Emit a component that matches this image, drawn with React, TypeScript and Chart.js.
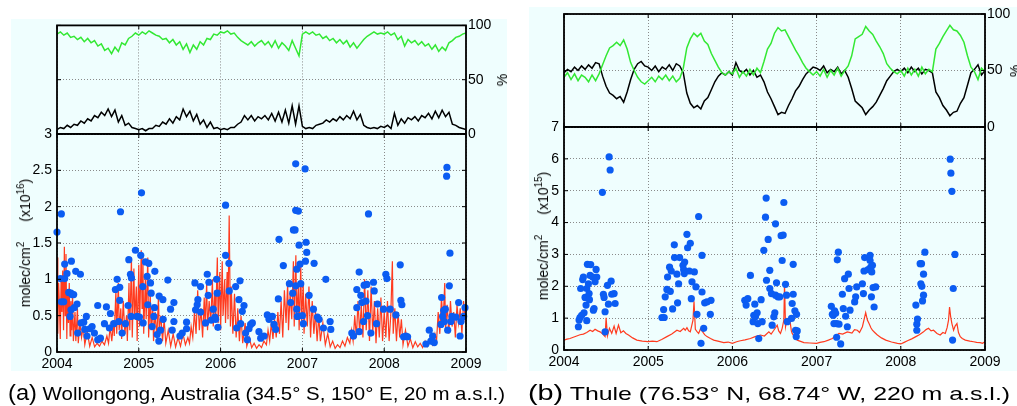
import React, { useEffect, useLayoutEffect, useRef } from "react";
import { Chart, registerables } from "chart.js";

Chart.register(...registerables);

const FONT = "'Liberation Sans', Arial, Helvetica, sans-serif";
Chart.defaults.font.family = FONT;
Chart.defaults.color = "#000";

// ---------------- data ----------------
const YEAR_START = 2004;
const YEAR_END = 2009;
const SAMPLES_PER_YEAR = 24;
const yearTicks = [2004, 2005, 2006, 2007, 2008, 2009];

// Wollongong, top panel (%), sampled every half month from 2004.0 to 2009.0
const wolGreen = [
  92, 94, 91, 93, 89, 90, 87, 89, 85, 88, 84, 86, 81, 83, 77, 79, 74, 80, 76, 84, 82, 88, 90, 93,
  91, 94, 92, 95, 93, 91, 90, 87, 88, 84, 87, 82, 85, 78, 83, 75, 82, 78, 85, 82, 88, 87, 92, 91,
  94, 93, 95, 92, 93, 89, 86, 84, 82, 85, 81, 84, 86, 82, 85, 80, 86, 79, 84, 81, 77, 86, 79, 72,
  92, 94, 92, 94, 91, 92, 88, 90, 86, 88, 84, 87, 83, 86, 80, 84, 79, 83, 87, 90, 92, 94, 92, 93,
  92, 94, 91, 93, 87, 90, 81, 87, 84, 86, 82, 85, 81, 83, 78, 82, 76, 80, 77, 84, 86, 89, 90, 92,
  93,
];
const wolBlack = [
  4, 6, 5, 8, 6, 9, 8, 12, 10, 14, 12, 17, 15, 20, 17, 23, 16, 22, 11, 17, 8, 10, 6, 5,
  4, 5, 3, 5, 5, 8, 7, 11, 9, 14, 10, 16, 13, 23, 16, 21, 12, 18, 9, 13, 6, 11, 5, 6,
  4, 5, 4, 6, 6, 9, 11, 17, 13, 17, 12, 16, 14, 17, 13, 19, 12, 20, 11, 22, 10, 26, 9, 26,
  7, 5, 6, 5, 8, 9, 10, 13, 11, 14, 12, 16, 13, 17, 14, 21, 13, 18, 8, 6, 5, 6, 5, 7,
  6, 8, 5, 19, 8, 14, 10, 15, 13, 16, 12, 17, 15, 19, 14, 21, 15, 22, 16, 20, 9, 8, 6, 5,
  4,
];

// Thule, top panel (%)
const thuGreen = [
  44, 48, 42, 47, 41, 46, 44, 40, 46, 41, 47, 55, 63, 70, 72, 75, 72, 77, 69, 57, 50, 44, 40, 38,
  41, 44, 40, 45, 42, 46, 41, 45, 40, 43, 52, 70, 78, 83, 80, 83, 76, 73, 65, 59, 53, 48, 46, 49,
  47, 52, 44, 49, 45, 51, 46, 52, 48, 58, 69, 74, 83, 88, 85, 86, 80, 74, 68, 63, 57, 52, 49, 46,
  49, 45, 51, 44, 50, 46, 52, 45, 50, 54, 63, 78, 80, 82, 89, 85, 82, 76, 71, 65, 56, 52, 49, 47,
  50, 45, 52, 46, 51, 45, 53, 47, 51, 49, 69, 74, 80, 85, 90, 86, 85, 81, 75, 63, 53, 49, 42, 52,
  49,
];
const thuBlack = [
  48, 51, 49, 53, 50, 54, 51, 55, 52, 57, 56, 45, 36, 30, 28, 25, 27, 22, 31, 42, 51, 56, 58, 54,
  53, 50, 54, 49, 53, 51, 55, 50, 56, 54, 48, 30, 21, 17, 19, 16, 23, 26, 33, 40, 45, 48, 46, 49,
  46, 57, 50, 48, 51, 46, 50, 44, 46, 40, 31, 25, 18, 11, 13, 12, 19, 25, 32, 36, 42, 47, 50, 53,
  52, 50, 54, 48, 51, 49, 53, 47, 50, 44, 34, 23, 20, 17, 11, 15, 18, 22, 28, 34, 41, 45, 49, 51,
  49, 52, 48, 53, 49, 52, 47, 51, 50, 48, 31, 26, 19, 15, 10, 13, 14, 21, 26, 37, 48, 51, 55, 46,
  50,
];

// Wollongong, bottom panel: model (red line), x10^16 molec/cm2
const wolModelYears = [
  2004.00, 2004.01, 2004.02, 2004.03, 2004.04, 2004.05, 2004.06, 2004.07, 2004.08, 2004.09,
  2004.10, 2004.11, 2004.12, 2004.13, 2004.14, 2004.15, 2004.16, 2004.17, 2004.18, 2004.19,
  2004.20, 2004.22, 2004.23, 2004.25, 2004.26, 2004.28, 2004.30, 2004.32, 2004.34, 2004.37,
  2004.40, 2004.43, 2004.46, 2004.49, 2004.52, 2004.55, 2004.58, 2004.61, 2004.63, 2004.65,
  2004.67, 2004.69, 2004.70, 2004.72, 2004.73, 2004.75, 2004.76, 2004.78, 2004.79, 2004.81,
  2004.83, 2004.85, 2004.86, 2004.88, 2004.89, 2004.91, 2004.92, 2004.94, 2004.95, 2004.97,
  2004.98, 2005.00, 2005.01, 2005.03, 2005.04, 2005.05, 2005.06, 2005.08, 2005.09, 2005.11,
  2005.12, 2005.14, 2005.15, 2005.17, 2005.18, 2005.20, 2005.22, 2005.24, 2005.25, 2005.27,
  2005.29, 2005.31, 2005.33, 2005.36, 2005.39, 2005.42, 2005.45, 2005.48, 2005.51, 2005.54,
  2005.57, 2005.60, 2005.62, 2005.64, 2005.66, 2005.68, 2005.70, 2005.72, 2005.74, 2005.76,
  2005.78, 2005.80, 2005.81, 2005.83, 2005.84, 2005.86, 2005.88, 2005.90, 2005.91, 2005.93,
  2005.94, 2005.96, 2005.97, 2005.99, 2006.00, 2006.02, 2006.03, 2006.05, 2006.06, 2006.08,
  2006.09, 2006.105, 2006.12, 2006.13, 2006.15, 2006.17, 2006.19, 2006.21, 2006.23, 2006.25,
  2006.27, 2006.30, 2006.32, 2006.35, 2006.38, 2006.41, 2006.44, 2006.47, 2006.50, 2006.53,
  2006.56, 2006.58, 2006.60, 2006.62, 2006.64, 2006.66, 2006.68, 2006.70, 2006.72, 2006.74,
  2006.76, 2006.78, 2006.80, 2006.82, 2006.83, 2006.85, 2006.87, 2006.89, 2006.90, 2006.92,
  2006.93, 2006.95, 2006.96, 2006.98, 2006.99, 2007.01, 2007.02, 2007.04, 2007.06, 2007.08,
  2007.10, 2007.12, 2007.14, 2007.16, 2007.18, 2007.20, 2007.22, 2007.25, 2007.28, 2007.31,
  2007.34, 2007.37, 2007.40, 2007.43, 2007.46, 2007.49, 2007.52, 2007.55, 2007.58, 2007.60,
  2007.62, 2007.64, 2007.66, 2007.68, 2007.70, 2007.72, 2007.74, 2007.76, 2007.78, 2007.80,
  2007.82, 2007.84, 2007.86, 2007.88, 2007.90, 2007.92, 2007.94, 2007.96, 2007.98, 2008.00,
  2008.02, 2008.04, 2008.06, 2008.08, 2008.10, 2008.11, 2008.13, 2008.15, 2008.17, 2008.19,
  2008.21, 2008.23, 2008.26, 2008.29, 2008.32, 2008.35, 2008.38, 2008.41, 2008.44, 2008.47,
  2008.50, 2008.53, 2008.56, 2008.59, 2008.62, 2008.64, 2008.66, 2008.68, 2008.70, 2008.72,
  2008.74, 2008.75, 2008.77, 2008.79, 2008.81, 2008.83, 2008.85, 2008.87, 2008.89, 2008.91,
  2008.93, 2008.95, 2008.97, 2008.99, 2009.00,
];
const wolModelValues = [
  1.30, 0.25, 0.95, 0.65, 0.18, 1.00, 0.55, 1.12, 0.30, 1.45,
  0.50, 1.35, 0.18, 0.85, 0.40, 0.95, 0.22, 0.70, 0.30, 0.80,
  0.15, 0.55, 0.15, 0.60, 0.12, 0.40, 0.20, 0.35, 0.10, 0.28,
  0.08, 0.20, 0.07, 0.12, 0.08, 0.15, 0.10, 0.22, 0.12, 0.35,
  0.15, 0.42, 0.22, 0.85, 0.25, 0.95, 0.30, 0.60, 0.18, 0.70,
  0.25, 0.50, 0.15, 0.95, 0.30, 1.30, 0.20, 1.15, 0.45, 0.90,
  0.15, 1.20, 0.35, 1.40, 0.60, 1.35, 0.25, 1.00, 0.45, 1.30,
  0.20, 0.80, 0.30, 0.65, 0.15, 0.55, 0.20, 0.75, 0.30, 0.50,
  0.15, 0.45, 0.12, 0.30, 0.08, 0.25, 0.07, 0.20, 0.08, 0.25,
  0.10, 0.20, 0.12, 0.35, 0.20, 0.55, 0.25, 0.85, 0.30, 0.60,
  0.20, 0.75, 0.35, 0.95, 0.30, 0.70, 0.40, 1.00, 0.35, 0.85,
  0.45, 1.30, 0.40, 1.10, 0.30, 1.25, 0.50, 1.00, 0.40, 1.10,
  0.45, 1.88, 0.35, 0.90, 0.25, 0.80, 0.20, 0.60, 0.15, 0.50,
  0.12, 0.40, 0.08, 0.20, 0.06, 0.12, 0.05, 0.10, 0.06, 0.15,
  0.10, 0.30, 0.15, 0.40, 0.18, 0.45, 0.20, 0.55, 0.25, 0.70,
  0.20, 0.85, 0.40, 0.95, 0.30, 0.80, 0.45, 1.25, 0.35, 1.33,
  0.50, 0.90, 0.30, 1.20, 0.40, 0.95, 0.25, 0.80, 0.35, 0.90,
  0.20, 0.70, 0.25, 0.55, 0.15, 0.50, 0.15, 0.40, 0.10, 0.25,
  0.07, 0.15, 0.05, 0.10, 0.06, 0.15, 0.08, 0.20, 0.12, 0.30,
  0.15, 0.50, 0.20, 0.70, 0.25, 0.65, 0.20, 1.00, 0.30, 0.85,
  0.15, 0.90, 0.25, 0.70, 0.12, 0.60, 0.20, 0.75, 0.15, 0.55,
  0.20, 0.70, 0.15, 0.50, 1.25, 0.25, 0.60, 0.15, 0.55, 0.20,
  0.45, 0.10, 0.30, 0.08, 0.18, 0.06, 0.14, 0.07, 0.12, 0.06,
  0.15, 0.08, 0.18, 0.10, 0.25, 0.15, 0.55, 0.25, 0.75, 0.40,
  0.95, 0.30, 0.65, 0.25, 0.70, 0.35, 0.55, 0.20, 0.65, 0.40,
  0.60, 0.25, 0.70, 0.45, 0.55,
];

// Wollongong, bottom panel: measurements (blue dots)
const wolObsYears = [
  2004.000, 2004.053, 2004.041, 2004.053, 2004.082, 2004.094, 2004.094, 2004.122, 2004.143, 2004.171,
  2004.176, 2004.184, 2004.204, 2004.171, 2004.212, 2004.229, 2004.245, 2004.159, 2004.286, 2004.253,
  2004.294, 2004.327, 2004.359, 2004.339, 2004.367, 2004.400, 2004.429, 2004.457, 2004.498, 2004.498,
  2004.531, 2004.604, 2004.580, 2004.641, 2004.653, 2004.694, 2004.714, 2004.735, 2004.755, 2004.767,
  2004.767, 2004.776, 2004.796, 2004.837, 2004.878, 2004.869, 2004.898, 2004.910, 2004.906, 2004.959,
  2004.980, 2005.008, 2005.024, 2005.033, 2005.049, 2005.053, 2005.082, 2005.122, 2005.102, 2005.110,
  2005.143, 2005.151, 2005.163, 2005.184, 2005.196, 2005.192, 2005.224, 2005.245, 2005.249, 2005.265,
  2005.294, 2005.298, 2005.355, 2005.388, 2005.408, 2005.429, 2005.429, 2005.502, 2005.531, 2005.584,
  2005.584, 2005.686, 2005.694, 2005.714, 2005.722, 2005.755, 2005.755, 2005.816, 2005.837, 2005.857,
  2005.849, 2005.886, 2005.910, 2005.931, 2005.951, 2005.959, 2005.967, 2005.939, 2006.061, 2006.061,
  2006.102, 2006.106, 2006.184, 2006.196, 2006.224, 2006.237, 2006.245, 2006.265, 2006.286, 2006.306,
  2006.327, 2006.347, 2006.367, 2006.388, 2006.469, 2006.490, 2006.531, 2006.571, 2006.592, 2006.633,
  2006.653, 2006.673, 2006.714, 2006.706, 2006.767, 2006.841, 2006.857, 2006.882, 2006.890, 2006.910,
  2006.918, 2006.918, 2006.951, 2006.918, 2006.931, 2006.931, 2006.939, 2006.959, 2006.971, 2006.980,
  2007.000, 2007.012, 2007.033, 2007.045, 2007.053, 2007.037, 2007.082, 2007.135, 2007.143, 2007.184,
  2007.204, 2007.257, 2007.286, 2007.339, 2007.347, 2007.604, 2007.624, 2007.665, 2007.665, 2007.694,
  2007.694, 2007.714, 2007.727, 2007.747, 2007.755, 2007.788, 2007.776, 2007.796, 2007.808, 2007.837,
  2007.869, 2007.878, 2007.906, 2007.918, 2007.992, 2008.020, 2008.033, 2008.073, 2008.143, 2008.196,
  2008.204, 2008.216, 2008.237, 2008.265, 2008.286, 2008.510, 2008.551, 2008.571, 2008.592, 2008.612,
  2008.694, 2008.702, 2008.714, 2008.727, 2008.735, 2008.747, 2008.767, 2008.763, 2008.776, 2008.796,
  2008.804, 2008.816, 2008.829, 2008.878, 2008.910, 2008.927, 2008.939, 2008.971, 2008.988,
];
const wolObsValues = [
  1.65, 1.90, 1.01, 0.69, 0.69, 1.21, 1.01, 1.08, 0.82, 0.81,
  1.25, 0.79, 0.79, 0.58, 0.61, 1.11, 0.66, 0.49, 1.07, 0.26,
  0.40, 0.41, 0.49, 0.31, 0.22, 0.32, 0.35, 0.26, 0.64, 0.17,
  0.19, 0.62, 0.39, 0.33, 0.53, 0.39, 0.86, 1.00, 0.42, 0.71,
  0.89, 1.93, 0.26, 0.39, 1.27, 0.64, 1.07, 1.02, 0.49, 1.40,
  0.49, 0.48, 1.33, 2.19, 0.90, 0.40, 1.24, 1.22, 1.04, 0.65,
  0.95, 0.81, 0.35, 0.49, 1.11, 0.61, 0.24, 0.15, 0.77, 0.30,
  0.72, 0.45, 0.99, 0.59, 0.30, 0.68, 0.42, 0.22, 0.26, 0.41,
  0.32, 0.95, 0.58, 0.65, 0.72, 0.90, 0.55, 0.40, 1.07, 0.96,
  0.78, 0.44, 0.59, 0.48, 1.00, 0.81, 0.34, 0.45, 1.33, 2.02,
  1.22, 0.84, 0.90, 0.33, 0.72, 0.98, 0.39, 0.56, 0.64, 0.26,
  0.17, 0.32, 0.38, 0.40, 0.28, 0.19, 0.22, 0.51, 0.45, 0.49,
  0.38, 0.31, 1.55, 0.73, 1.19, 0.94, 0.68, 0.81, 1.68, 1.68,
  2.59, 1.95, 1.94, 0.91, 1.14, 0.59, 0.49, 1.47, 1.21, 0.94,
  0.50, 0.39, 2.52, 1.51, 1.37, 1.25, 0.78, 0.59, 1.22, 0.48,
  0.45, 0.33, 1.00, 0.42, 0.31, 0.26, 0.22, 0.86, 0.61, 1.10,
  0.28, 0.78, 0.68, 0.42, 0.92, 0.93, 0.70, 0.50, 1.90, 0.26,
  0.96, 0.84, 0.39, 0.66, 0.59, 1.07, 1.01, 0.59, 0.51, 1.20,
  0.71, 0.65, 0.21, 0.22, 0.21, 0.11, 0.30, 0.15, 0.22, 0.13,
  0.38, 0.75, 0.49, 0.57, 0.42, 0.59, 2.54, 2.42, 0.30, 0.91,
  1.36, 0.42, 0.49, 0.48, 0.68, 0.22, 0.42, 0.49, 0.61,
];

// Thule, bottom panel: model (red line), x10^15 molec/cm2
const thuModelYears = [
  2004.000, 2004.035, 2004.071, 2004.110, 2004.151, 2004.190, 2004.230, 2004.270, 2004.310, 2004.340,
  2004.369, 2004.400, 2004.429, 2004.460, 2004.488, 2004.500, 2004.516, 2004.540, 2004.567, 2004.595,
  2004.619, 2004.647, 2004.675, 2004.706, 2004.735, 2004.766, 2004.815, 2004.865, 2004.930, 2004.996,
  2005.050, 2005.103, 2005.160, 2005.222, 2005.280, 2005.341, 2005.380, 2005.421, 2005.440, 2005.460,
  2005.480, 2005.500, 2005.532, 2005.544, 2005.560, 2005.580, 2005.599, 2005.620, 2005.639, 2005.670,
  2005.698, 2005.740, 2005.778, 2005.840, 2005.897, 2005.950, 2006.000, 2006.050, 2006.095, 2006.150,
  2006.214, 2006.270, 2006.333, 2006.380, 2006.433, 2006.460, 2006.492, 2006.532, 2006.550, 2006.571,
  2006.591, 2006.611, 2006.619, 2006.631, 2006.651, 2006.683, 2006.700, 2006.710, 2006.740, 2006.770,
  2006.810, 2006.849, 2006.920, 2007.000, 2007.040, 2007.087, 2007.140, 2007.187, 2007.230, 2007.266,
  2007.310, 2007.365, 2007.420, 2007.450, 2007.484, 2007.510, 2007.544, 2007.583, 2007.603, 2007.623,
  2007.645, 2007.663, 2007.690, 2007.722, 2007.770, 2007.821, 2007.890, 2007.960, 2008.000, 2008.040,
  2008.079, 2008.130, 2008.179, 2008.220, 2008.270, 2008.300, 2008.329, 2008.360, 2008.389, 2008.430,
  2008.468, 2008.500, 2008.528, 2008.550, 2008.567, 2008.579, 2008.592, 2008.607, 2008.627, 2008.645,
  2008.667, 2008.685, 2008.706, 2008.730, 2008.766, 2008.820, 2008.865, 2008.900, 2008.944, 2008.970,
  2009.000,
];
const thuModelValues = [
  0.31, 0.34, 0.36, 0.40, 0.44, 0.48, 0.50, 0.55, 0.62, 0.58,
  0.65, 0.60, 0.57, 0.50, 0.42, 1.01, 0.44, 0.68, 0.52, 0.75,
  0.52, 0.78, 0.54, 0.60, 0.52, 0.47, 0.38, 0.31, 0.28, 0.26,
  0.28, 0.26, 0.33, 0.42, 0.50, 0.62, 0.58, 0.68, 0.62, 0.70,
  0.60, 0.57, 0.94, 1.53, 0.65, 0.58, 0.52, 0.66, 0.60, 0.48,
  0.42, 0.36, 0.31, 0.27, 0.23, 0.25, 0.21, 0.26, 0.29, 0.32,
  0.36, 0.42, 0.47, 0.44, 0.57, 0.50, 0.62, 0.78, 0.60, 0.52,
  0.68, 0.94, 2.08, 0.73, 0.99, 0.94, 0.60, 0.52, 0.40, 0.31,
  0.27, 0.23, 0.22, 0.21, 0.24, 0.26, 0.31, 0.36, 0.45, 0.52,
  0.50, 0.57, 0.53, 0.64, 0.62, 0.55, 0.73, 1.17, 0.94, 0.83,
  0.70, 0.62, 0.55, 0.47, 0.38, 0.31, 0.25, 0.21, 0.19, 0.24,
  0.29, 0.35, 0.42, 0.48, 0.57, 0.64, 0.68, 0.60, 0.62, 0.52,
  0.47, 0.55, 0.52, 0.70, 0.94, 1.35, 1.05, 0.83, 0.62, 0.75,
  0.83, 0.55, 0.42, 0.36, 0.31, 0.28, 0.26, 0.24, 0.23, 0.21,
  0.26,
];

// Thule, bottom panel: measurements (blue dots)
const thuObsYears = [
  2004.171, 2004.179, 2004.190, 2004.198, 2004.222, 2004.230, 2004.210, 2004.238, 2004.250, 2004.270,
  2004.262, 2004.270, 2004.278, 2004.317, 2004.290, 2004.298, 2004.302, 2004.310, 2004.341, 2004.349,
  2004.357, 2004.369, 2004.381, 2004.389, 2004.456, 2004.468, 2004.476, 2004.488, 2004.488, 2004.516,
  2004.528, 2004.536, 2004.548, 2004.560, 2004.567, 2004.595, 2004.607,
  2005.163, 2005.183, 2005.190, 2005.202, 2005.230, 2005.222, 2005.254, 2005.274, 2005.262, 2005.290,
  2005.310, 2005.313, 2005.373, 2005.341, 2005.361, 2005.349, 2005.413, 2005.433, 2005.421, 2005.429,
  2005.460, 2005.468, 2005.500, 2005.488, 2005.512, 2005.520, 2005.548, 2005.567, 2005.579, 2005.599,
  2005.639, 2005.639, 2005.659, 2005.671, 2005.627, 2005.738, 2005.746, 2005.698,
  2006.147, 2006.163, 2006.183, 2006.214, 2006.246, 2006.254, 2006.266, 2006.274, 2006.294, 2006.302,
  2006.313, 2006.341, 2006.353, 2006.373, 2006.393, 2006.401, 2006.405, 2006.425, 2006.444, 2006.444,
  2006.464, 2006.472, 2006.492, 2006.504, 2006.512, 2006.512, 2006.524, 2006.540, 2006.563, 2006.579,
  2006.591, 2006.603, 2006.611, 2006.631, 2006.643, 2006.651, 2006.702, 2006.710, 2006.722, 2006.722,
  2006.742, 2006.750, 2006.762, 2006.758, 2006.770,
  2007.175, 2007.187, 2007.198, 2007.206, 2007.214, 2007.226, 2007.238, 2007.246, 2007.258, 2007.266,
  2007.238, 2007.286, 2007.306, 2007.317, 2007.333, 2007.345, 2007.365, 2007.377, 2007.385, 2007.397,
  2007.452, 2007.464, 2007.476, 2007.544, 2007.556, 2007.563, 2007.571, 2007.611, 2007.635, 2007.635,
  2007.643, 2007.655, 2007.663, 2007.651, 2007.671, 2007.683, 2007.702,
  2008.179, 2008.190, 2008.198, 2008.190, 2008.230, 2008.246, 2008.238, 2008.250, 2008.258, 2008.270,
  2008.270, 2008.286, 2008.587, 2008.595, 2008.607, 2008.623, 2008.615, 2008.643,
];
const thuObsValues = [
  0.73, 0.94, 1.02, 1.93, 2.21, 2.29, 1.09, 1.17, 1.65, 1.93,
  1.41, 0.92, 2.69, 2.68, 2.08, 1.77, 1.58, 2.34, 2.29, 1.25,
  1.30, 2.14, 2.53, 2.29, 4.95, 1.75, 1.65, 1.20, 0.57, 2.03,
  1.44, 6.06, 5.65, 2.16, 1.75, 1.77, 1.46,
  1.02, 1.27, 1.02, 1.67, 2.29, 1.90, 2.60, 2.48, 1.84, 1.29,
  3.30, 2.90, 2.90, 2.38, 2.08, 1.48, 2.66, 2.76, 2.52, 2.40,
  3.63, 3.21, 3.35, 2.48, 1.61, 2.14, 2.45, 1.98, 1.12, 4.19,
  2.97, 1.82, 0.68, 1.48, 0.21, 1.12, 1.56, 1.51,
  1.56, 1.41, 1.61, 2.34, 0.89, 1.09, 1.44, 1.04, 1.17, 0.83,
  0.36, 1.58, 0.89, 3.13, 4.17, 4.77, 2.19, 3.47, 2.50, 1.93,
  1.77, 0.78, 1.04, 1.17, 3.96, 1.72, 2.11, 1.67, 1.67, 3.59,
  2.81, 3.61, 4.63, 2.06, 1.72, 0.89, 0.99, 1.46, 2.69, 1.75,
  1.23, 0.62, 1.12, 0.42, 0.60,
  1.37, 1.12, 1.09, 0.83, 1.23, 1.15, 0.83, 2.83, 3.07, 0.81,
  0.40, 0.19, 1.75, 1.30, 2.24, 1.06, 0.73, 2.38, 1.93, 1.25,
  1.51, 1.67, 1.98, 2.08, 1.77, 2.48, 2.90, 2.52, 2.97, 2.81,
  2.60, 2.45, 2.66, 1.67, 1.96, 1.35, 1.98,
  1.41, 0.81, 0.97, 0.62, 2.71, 2.71, 2.08, 2.00, 1.54, 1.72,
  2.38, 3.07, 5.99, 5.55, 4.98, 1.93, 0.31, 3.00,
];

const pctTicksStep = 50;

// ---------------- styles ----------------
const COLORS = {
  green: "#33e833",
  black: "#000000",
  red: "#ff3b1f",
  blue: "#0b5cf2",
  grid: "#8a8a8a",
  panel: "#effefe",
};

const regular = (vals: number[]) =>
  vals.map((v, i) => ({ x: YEAR_START + i / SAMPLES_PER_YEAR, y: v }));
const paired = (xs: number[], ys: number[]) => {
  const n = Math.min(xs.length, ys.length);
  const out: { x: number; y: number }[] = [];
  for (let i = 0; i < n; i++) out.push({ x: xs[i], y: ys[i] });
  return out;
};
const fmt = (v: any) => String(Math.round(Number(v) * 100) / 100);

const framePlugin = {
  id: "frame",
  afterDraw(chart: any) {
    const { ctx, chartArea: a, scales } = chart;
    ctx.save();
    ctx.strokeStyle = "#000";
    ctx.lineWidth = 1;
    const tl = 4;
    ctx.beginPath();
    const xs = scales.x;
    xs.ticks.forEach((t: any) => {
      const p = xs.getPixelForValue(t.value);
      ctx.moveTo(p, a.bottom);
      ctx.lineTo(p, a.bottom - tl);
      ctx.moveTo(p, a.top);
      ctx.lineTo(p, a.top + tl);
    });
    const ys = scales.y;
    ys.ticks.forEach((t: any) => {
      const p = ys.getPixelForValue(t.value);
      ctx.moveTo(a.left, p);
      ctx.lineTo(a.left + tl, p);
      ctx.moveTo(a.right, p);
      ctx.lineTo(a.right - tl, p);
    });
    ctx.stroke();
    ctx.lineWidth = 1.8;
    ctx.strokeRect(a.left, a.top, a.right - a.left, a.bottom - a.top);
    ctx.restore();
  },
};

const gridOpts = { color: COLORS.grid, lineWidth: 1, drawTicks: false };
const borderOpts = { display: false, dash: [1, 2] };

const common = {
  responsive: false,
  maintainAspectRatio: false,
  animation: false,
  devicePixelRatio: 1,
  events: [],
  plugins: { legend: { display: false }, tooltip: { enabled: false } },
};

type Pad = { left: number; top: number; right: number; bottom: number };

function topConfig(green: number[], black: number[], pad: Pad, axisW: number): any {
  return {
    type: "line",
    data: {
      datasets: [
        { data: regular(green), borderColor: COLORS.green, borderWidth: 1.5, pointRadius: 0, tension: 0, fill: false },
        { data: regular(black), borderColor: COLORS.black, borderWidth: 1.5, pointRadius: 0, tension: 0, fill: false },
      ],
    },
    options: {
      ...common,
      layout: { padding: pad },
      scales: {
        x: {
          type: "linear",
          min: YEAR_START,
          max: YEAR_END,
          ticks: { display: false, stepSize: 1 },
          grid: gridOpts,
          border: borderOpts,
          afterFit: (s: any) => {
            s.height = 0;
          },
        },
        y: {
          position: "right",
          min: 0,
          max: 100,
          ticks: { stepSize: pctTicksStep, padding: 2, font: { size: 14 }, color: "#000", callback: fmt },
          grid: gridOpts,
          border: borderOpts,
          afterFit: (s: any) => {
            s.width = axisW;
          },
        },
      },
    },
    plugins: [framePlugin],
  };
}

function bottomConfig(
  obsX: number[],
  obsY: number[],
  modX: number[],
  modY: number[],
  yMax: number,
  yStep: number,
  pad: Pad,
  yAxisW: number,
  xAxisH: number
): any {
  return {
    type: "scatter",
    data: {
      datasets: [
        {
          data: paired(obsX, obsY),
          backgroundColor: COLORS.blue,
          borderWidth: 0,
          pointRadius: 3.6,
          showLine: false,
          clip: false,
        },
        {
          data: paired(modX, modY),
          borderColor: COLORS.red,
          borderWidth: 1.2,
          pointRadius: 0,
          showLine: true,
          tension: 0,
        },
      ],
    },
    options: {
      ...common,
      layout: { padding: pad },
      scales: {
        x: {
          type: "linear",
          min: YEAR_START,
          max: YEAR_END,
          afterBuildTicks: (s: any) => {
            s.ticks = yearTicks.map((v) => ({ value: v }));
          },
          ticks: {
            stepSize: 1,
            padding: 4,
            autoSkip: false,
            maxRotation: 0,
            font: { size: 14 },
            color: "#000",
            callback: (v: any) => String(v),
          },
          grid: gridOpts,
          border: borderOpts,
          afterFit: (s: any) => {
            s.height = xAxisH;
          },
        },
        y: {
          position: "left",
          min: 0,
          max: yMax,
          ticks: { stepSize: yStep, padding: 5, font: { size: 14 }, color: "#000", callback: fmt },
          grid: gridOpts,
          border: borderOpts,
          afterFit: (s: any) => {
            s.width = yAxisW;
          },
        },
      },
    },
    plugins: [framePlugin],
  };
}

type Box = { left: number; top: number; width: number; height: number };

function ChartCanvas({ box, make }: { box: Box; make: () => any }) {
  const ref = useRef<HTMLCanvasElement>(null);
  useEffect(() => {
    if (!ref.current) return;
    const chart = new Chart(ref.current, make());
    return () => chart.destroy();
  }, []);
  return (
    <canvas
      ref={ref}
      width={box.width}
      height={box.height}
      style={{ position: "absolute", left: box.left, top: box.top, width: box.width, height: box.height }}
    />
  );
}

function YTitle({ x, y, exp }: { x: number; y: number; exp: string }) {
  const sup = { fontSize: 10, lineHeight: 0, verticalAlign: "super" } as React.CSSProperties;
  return (
    <div
      style={{
        position: "absolute",
        left: x,
        top: y,
        transform: "translate(-50%,-50%) rotate(-90deg)",
        whiteSpace: "nowrap",
        fontFamily: FONT,
        fontSize: 14,
        lineHeight: "16px",
        color: "#000",
      }}
    >
      molec/cm<span style={sup}>2</span>
      <span style={{ display: "inline-block", width: 20 }} />
      (x10<span style={sup}>{exp}</span>)
    </div>
  );
}

function RotLabel({ x, y, text }: { x: number; y: number; text: string }) {
  return (
    <div
      style={{
        position: "absolute",
        left: x,
        top: y,
        transform: "translate(-50%,-50%) rotate(-90deg)",
        whiteSpace: "nowrap",
        fontFamily: FONT,
        fontSize: 14,
        lineHeight: "16px",
        color: "#000",
      }}
    >
      {text}
    </div>
  );
}

function Caption({ left, width, y, tag, text }: { left: number; width: number; y: number; tag: string; text: string }) {
  const ref = useRef<HTMLDivElement>(null);
  useLayoutEffect(() => {
    const el = ref.current;
    if (!el) return;
    const w = el.offsetWidth;
    if (w > 0) el.style.transform = `translateY(-50%) scaleX(${width / w})`;
  }, []);
  return (
    <div
      ref={ref}
      style={{
        position: "absolute",
        left,
        top: y,
        transformOrigin: "0 50%",
        transform: "translateY(-50%)",
        whiteSpace: "nowrap",
        fontFamily: FONT,
        fontSize: 19,
        lineHeight: "22px",
        color: "#000",
      }}
    >
      <span style={{ fontSize: 22 }}>{tag}</span> {text}
    </div>
  );
}

export default function App() {
  return (
    <div
      style={{
        position: "fixed",
        left: 0,
        top: 0,
        width: 1017,
        height: 406,
        background: "#ffffff",
        overflow: "hidden",
      }}
    >
      <div style={{ position: "absolute", left: 11, top: 19, width: 496, height: 352, background: COLORS.panel }} />
      <div style={{ position: "absolute", left: 529, top: 7, width: 488, height: 364, background: COLORS.panel }} />

      <ChartCanvas
        box={{ left: 11, top: 15, width: 496, height: 134 }}
        make={() => topConfig(wolGreen, wolBlack, { left: 46, top: 10, right: 0, bottom: 15 }, 41)}
      />
      <ChartCanvas
        box={{ left: 11, top: 120, width: 496, height: 252 }}
        make={() =>
          bottomConfig(wolObsYears, wolObsValues, wolModelYears, wolModelValues, 3, 0.5, { left: 0, top: 14, right: 41, bottom: 0 }, 46, 20)
        }
      />
      <ChartCanvas
        box={{ left: 529, top: 0, width: 488, height: 140 }}
        make={() => topConfig(thuGreen, thuBlack, { left: 35, top: 14, right: 0, bottom: 13 }, 32)}
      />
      <ChartCanvas
        box={{ left: 529, top: 110, width: 488, height: 262 }}
        make={() =>
          bottomConfig(thuObsYears, thuObsValues, thuModelYears, thuModelValues, 7, 1, { left: 0, top: 17, right: 32, bottom: 0 }, 35, 22)
        }
      />

      <YTitle x={25} y={243} exp="16" />
      <YTitle x={543} y={236} exp="15" />
      <RotLabel x={502} y={80} text="%" />
      <RotLabel x={1015} y={71} text="%" />

      <Caption left={8} width={497} y={393} tag="(a)" text="Wollongong, Australia (34.5° S, 150° E, 20 m a.s.l.)" />
      <Caption left={528} width={482} y={393} tag="(b)" text="Thule (76.53° N, 68.74° W, 220 m a.s.l.)" />
    </div>
  );
}
